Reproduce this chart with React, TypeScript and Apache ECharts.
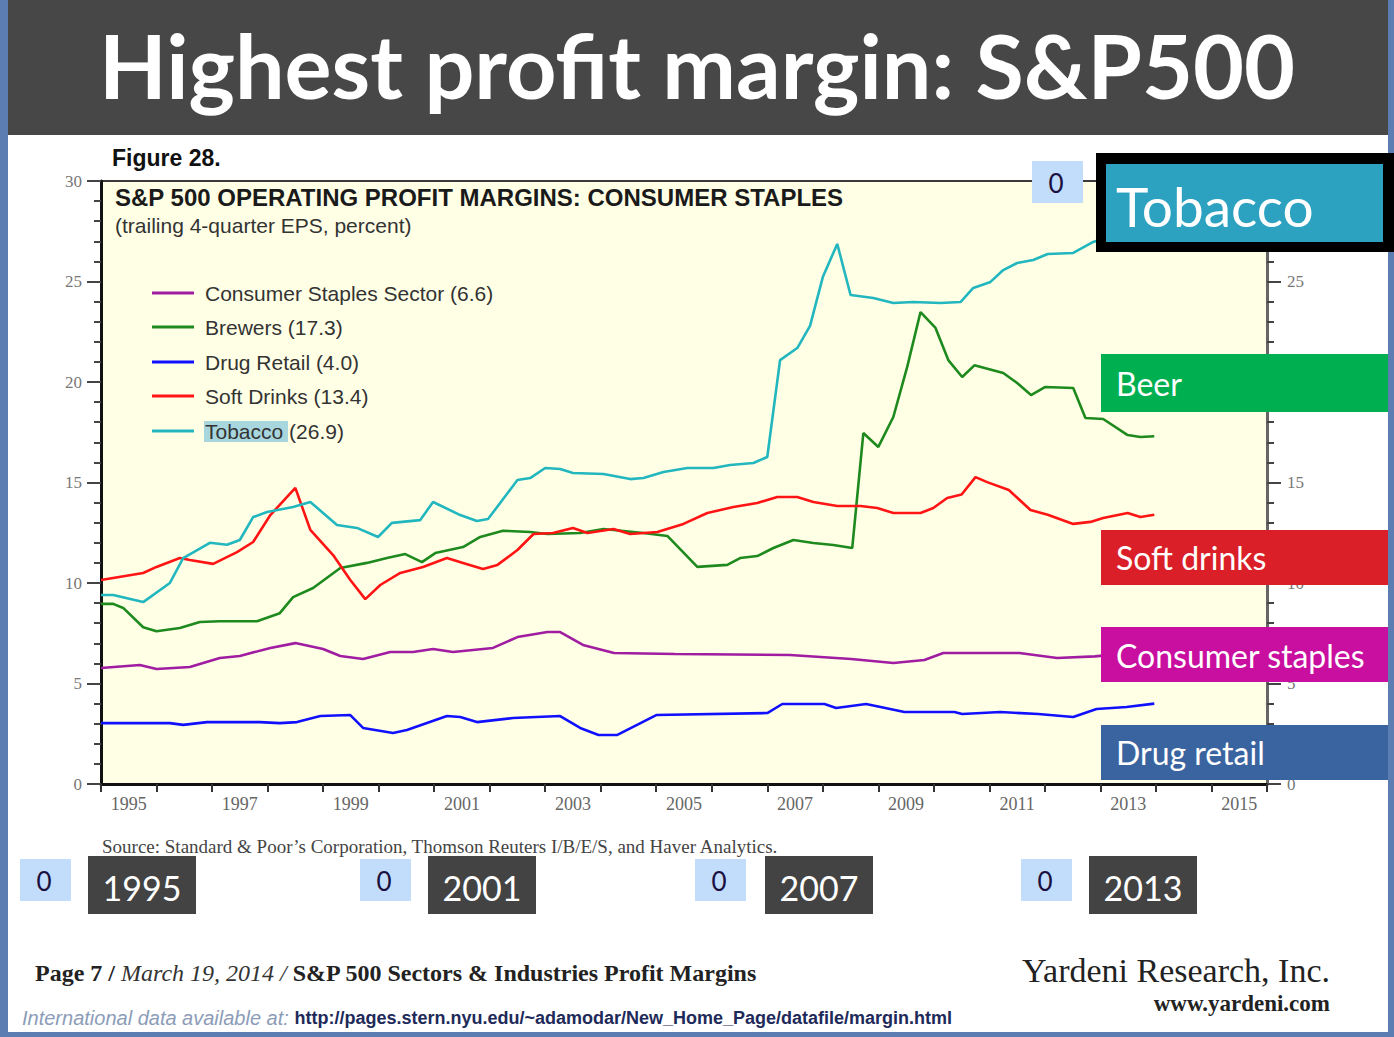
import React, { useEffect, useRef } from 'react';
import * as echarts from 'echarts';

// ---- data (year, percent) ----
const consumerStaples: [number, number][] = [
  [1995.0, 5.77], [1995.7, 5.92], [1996.0, 5.72], [1996.6, 5.82], [1997.14, 6.27], [1997.5, 6.37],
  [1998.05, 6.77], [1998.5, 7.01], [1999.0, 6.72], [1999.31, 6.37], [1999.72, 6.22], [2000.21, 6.57],
  [2000.62, 6.57], [2000.98, 6.72], [2001.34, 6.57], [2002.06, 6.77], [2002.5, 7.31], [2003.04, 7.56],
  [2003.27, 7.56], [2003.68, 6.92], [2004.24, 6.52], [2005.34, 6.47], [2007.41, 6.42], [2008.51, 6.22],
  [2009.27, 6.02], [2009.83, 6.17], [2010.17, 6.52], [2011.54, 6.52], [2012.22, 6.27], [2012.9, 6.35],
  [2013.5, 6.5], [2013.97, 6.6],
];

const brewers: [number, number][] = [
  [1995.0, 8.96], [1995.22, 8.96], [1995.4, 8.76], [1995.76, 7.8], [1996.0, 7.6], [1996.42, 7.76],
  [1996.78, 8.06], [1997.14, 8.1], [1997.81, 8.1], [1998.22, 8.5], [1998.46, 9.3], [1998.82, 9.75],
  [1999.31, 10.75], [1999.79, 11.0], [2000.15, 11.24], [2000.48, 11.44], [2000.78, 11.04], [2001.02, 11.49],
  [2001.52, 11.79], [2001.83, 12.29], [2002.24, 12.6], [2002.73, 12.54], [2003.04, 12.44], [2003.63, 12.49],
  [2004.05, 12.69], [2004.77, 12.49], [2005.2, 12.34], [2005.74, 10.8], [2006.28, 10.9], [2006.51, 11.24],
  [2006.82, 11.34], [2007.11, 11.74], [2007.47, 12.14], [2007.83, 11.99], [2008.19, 11.89], [2008.53, 11.74],
  [2008.73, 17.46], [2009.0, 16.77], [2009.27, 18.26], [2009.52, 20.75], [2009.76, 23.48], [2010.03, 22.69],
  [2010.26, 21.09], [2010.51, 20.25], [2010.73, 20.83], [2011.25, 20.45], [2011.5, 19.95], [2011.75, 19.35],
  [2012.0, 19.75], [2012.51, 19.7], [2012.73, 18.21], [2013.05, 18.16], [2013.49, 17.36], [2013.72, 17.26],
  [2013.97, 17.3],
];

const drugRetail: [number, number][] = [
  [1995.0, 3.03], [1996.24, 3.03], [1996.48, 2.94], [1996.91, 3.08], [1997.86, 3.08], [1998.22, 3.03],
  [1998.53, 3.08], [1998.95, 3.38], [1999.49, 3.43], [1999.72, 2.79], [2000.26, 2.54], [2000.51, 2.69],
  [2001.23, 3.38], [2001.47, 3.33], [2001.77, 3.08], [2002.42, 3.28], [2003.27, 3.38], [2003.63, 2.79],
  [2003.96, 2.44], [2004.3, 2.44], [2005.0, 3.43], [2007.0, 3.53], [2007.27, 3.98], [2008.03, 3.98],
  [2008.24, 3.78], [2008.78, 3.98], [2009.47, 3.58], [2010.37, 3.58], [2010.51, 3.48], [2011.2, 3.58],
  [2011.88, 3.48], [2012.51, 3.33], [2012.93, 3.73], [2013.47, 3.83], [2013.97, 4.0],
];

const softDrinks: [number, number][] = [
  [1995.0, 10.15], [1995.76, 10.5], [1996.0, 10.8], [1996.42, 11.24], [1996.6, 11.14], [1997.02, 10.95],
  [1997.45, 11.54], [1997.74, 12.04], [1998.05, 13.38], [1998.5, 14.73], [1998.77, 12.64], [1999.18, 11.39],
  [1999.49, 10.15], [1999.76, 9.2], [2000.03, 9.9], [2000.39, 10.5], [2000.8, 10.8], [2001.23, 11.24],
  [2001.52, 11.0], [2001.88, 10.7], [2002.14, 10.9], [2002.5, 11.64], [2002.79, 12.44], [2003.14, 12.49],
  [2003.5, 12.74], [2003.76, 12.49], [2004.23, 12.69], [2004.53, 12.44], [2005.02, 12.54], [2005.49, 12.94],
  [2005.92, 13.48], [2006.39, 13.78], [2006.82, 13.98], [2007.18, 14.28], [2007.54, 14.28], [2007.83, 14.03],
  [2008.26, 13.83], [2008.68, 13.83], [2008.98, 13.73], [2009.27, 13.48], [2009.76, 13.48], [2009.99, 13.73],
  [2010.24, 14.23], [2010.5, 14.4], [2010.75, 15.27], [2010.96, 15.02], [2011.35, 14.63], [2011.74, 13.63],
  [2012.05, 13.4], [2012.51, 12.94], [2012.82, 13.04], [2013.05, 13.23], [2013.49, 13.48], [2013.72, 13.28],
  [2013.97, 13.4],
];

const tobacco: [number, number][] = [
  [1995.0, 9.4], [1995.22, 9.4], [1995.76, 9.05], [1996.24, 10.0], [1996.48, 11.24], [1996.96, 12.0],
  [1997.27, 11.9], [1997.5, 12.14], [1997.74, 13.28], [1997.99, 13.53], [1998.46, 13.78], [1998.77, 14.03],
  [1999.25, 12.89], [1999.61, 12.74], [1999.99, 12.29], [2000.24, 12.99], [2000.75, 13.13], [2000.98, 14.03],
  [2001.47, 13.38], [2001.77, 13.08], [2001.97, 13.18], [2002.5, 15.12], [2002.73, 15.22], [2003.0, 15.72],
  [2003.27, 15.67], [2003.5, 15.47], [2004.05, 15.42], [2004.53, 15.17], [2004.77, 15.22], [2005.13, 15.52],
  [2005.56, 15.72], [2006.03, 15.72], [2006.33, 15.87], [2006.75, 15.97], [2007.0, 16.27], [2007.23, 21.09],
  [2007.54, 21.69], [2007.77, 22.79], [2008.0, 25.22], [2008.26, 26.87], [2008.5, 24.33], [2008.91, 24.18],
  [2009.27, 23.93], [2009.63, 23.98], [2010.12, 23.93], [2010.48, 23.98], [2010.71, 24.68], [2011.02, 24.98],
  [2011.25, 25.57], [2011.5, 25.92], [2011.79, 26.07], [2012.05, 26.37], [2012.51, 26.42], [2012.87, 26.97],
  [2013.25, 27.3], [2013.6, 27.1], [2013.97, 26.9],
];

const legendNames = [
  'Consumer Staples Sector (6.6)',
  'Brewers (17.3)',
  'Drug Retail (4.0)',
  'Soft Drinks (13.4)',
  'Tobacco (26.9)',
];
const seriesColors = ['#A01CA0', '#1E8A1E', '#1010FF', '#FF1414', '#22B6BE'];
const seriesData = [consumerStaples, brewers, drugRetail, softDrinks, tobacco];

const yearBoxLabels = ['1995', '2001', '2007', '2013'];
const sideLabels = ['Tobacco', 'Beer', 'Soft drinks', 'Consumer staples', 'Drug retail'];

const SANS = 'Lato, "Open Sans", sans-serif';
const ARIAL = '"Liberation Sans", Arial, sans-serif';
const SERIF = '"Liberation Serif", "Times New Roman", serif';

function buildOption() {
  const Z = 100;
  const els: any[] = [];
  const rect = (x: number, y: number, w: number, h: number, fill: string, z = Z) =>
    els.push({ type: 'rect', z, shape: { x, y, width: w, height: h }, style: { fill } });
  const text = (x: number, y: number, t: string, font: string, fill: string, align = 'left', z = Z + 1) =>
    els.push({
      type: 'text', z, x, y,
      style: { text: t, font, fill, textAlign: align, textVerticalAlign: 'middle' },
    });

  // page frame
  rect(0, 0, 8, 1037, '#5B7DB1');
  rect(1388, 0, 6, 1037, '#5B7DB1');
  rect(0, 1032, 1394, 5, '#5B7DB1');
  // title bar
  rect(8, 0, 1380, 135, '#474747');
  text(697, 65, 'Highest profit margin: S&P500', `bold 88px ${SANS}`, '#FFFFFF', 'center');

  // figure header
  text(112, 158, 'Figure 28.', `bold 23px ${ARIAL}`, '#111111');
  text(115, 197, 'S&P 500 OPERATING PROFIT MARGINS: CONSUMER STAPLES', `bold 24px ${ARIAL}`, '#1a1a1a');
  text(115, 225, '(trailing 4-quarter EPS, percent)', `21px ${ARIAL}`, '#333333');

  // legend
  const legendY = [293, 327, 362, 396, 431];
  rect(204, 421, 84, 21, '#A8D6DE');
  legendNames.forEach((n, i) => {
    els.push({
      type: 'line', z: Z,
      shape: { x1: 152, y1: legendY[i], x2: 194, y2: legendY[i] },
      style: { stroke: seriesColors[i], lineWidth: 3 },
    });
    text(205, legendY[i], n, `21px ${ARIAL}`, '#333333');
  });

  // zero boxes
  const zeroBoxes = [[1032, 161], [20, 859], [360, 859], [695, 859], [1021, 859]];
  zeroBoxes.forEach(([x, y]) => {
    rect(x, y, 51, 42, '#C2DCFC');
    text(x + 24, y + 22, '0', `26px ${SANS}`, '#1a1040', 'center');
  });

  // year boxes
  const yearBoxX = [88, 428, 765, 1089];
  yearBoxLabels.forEach((t, i) => {
    rect(yearBoxX[i], 856, 108, 58, '#434343');
    text(yearBoxX[i] + 54, 887, t, `34px ${SANS}`, '#FFFFFF', 'center');
  });

  // side labels
  rect(1096, 153, 298, 99, '#000000');
  rect(1106, 164, 277, 78, '#2CA1C0', Z + 1);
  text(1116, 206, sideLabels[0], `55px ${SANS}`, '#FFFFFF', 'left', Z + 2);
  const sideBoxes = [
    [354, 58, '#00B050', 383],
    [530, 55, '#DA1F28', 557],
    [627, 55, '#C90FA0', 655],
    [725, 55, '#3A64A0', 752],
  ];
  sideBoxes.forEach(([y, h, c, ty], i) => {
    rect(1101, y as number, 287, h as number, c as string);
    text(1116, ty as number, sideLabels[i + 1], `32px ${SANS}`, '#FFFFFF');
  });

  // source & footer
  text(102, 846, "Source: Standard & Poor’s Corporation, Thomson Reuters I/B/E/S, and Haver Analytics.", `19px ${SERIF}`, '#444444');
  els.push({
    type: 'text', z: Z + 1, x: 35, y: 973,
    style: {
      text: '{b|Page 7 / }{i|March 19, 2014 / }{b|S&P 500 Sectors & Industries Profit Margins}',
      textVerticalAlign: 'middle',
      rich: {
        b: { font: `bold 24px ${SERIF}`, fill: '#222222' },
        i: { font: `italic 24px ${SERIF}`, fill: '#333333' },
      },
    },
  });
  text(1330, 970, 'Yardeni Research, Inc.', `34px ${SERIF}`, '#222222', 'right');
  text(1330, 1003, 'www.yardeni.com', `bold 23px ${SERIF}`, '#222222', 'right');
  els.push({
    type: 'text', z: Z + 1, x: 22, y: 1018,
    style: {
      text: '{a|International data available at: }{u|http://pages.stern.nyu.edu/~adamodar/New_Home_Page/datafile/margin.html}',
      textVerticalAlign: 'middle',
      rich: {
        a: { font: `italic 20px ${ARIAL}`, fill: '#8C9CB8' },
        u: { font: `bold 18px ${ARIAL}`, fill: '#1E2A5A' },
      },
    },
  });

  const yAxisCommon = {
    type: 'value', min: 0, max: 30, interval: 5, splitNumber: 6,
    splitLine: { show: false },
    axisTick: { show: true, length: 14, lineStyle: { color: '#444', width: 2 } },
    minorTick: { show: true, splitNumber: 5, length: 7, lineStyle: { color: '#444', width: 2 } },
  };

  return {
    animation: false,
    backgroundColor: '#FFFFFF',
    grid: {
      left: 101, top: 181, width: 1166, height: 603,
      show: true, backgroundColor: '#FFFFE6', borderColor: '#3a3a3a', borderWidth: 2,
    },
    xAxis: [
      {
        type: 'value', min: 1995, max: 2016, interval: 1,
        axisLine: { show: true, onZero: false, lineStyle: { color: '#111', width: 3 } },
        axisTick: { show: true, length: 8, lineStyle: { color: '#333', width: 2 } },
        axisLabel: { show: false },
        splitLine: { show: false },
      },
      {
        type: 'value', min: 3990, max: 4032, interval: 1, position: 'bottom',
        axisLine: { show: false }, axisTick: { show: false }, splitLine: { show: false },
        axisLabel: {
          interval: 0, fontFamily: SERIF, fontSize: 18, color: '#666', margin: 11,
          formatter: (v: number) => {
            if (v % 2 !== 1) return '';
            const yr = (v - 1) / 2;
            return yr % 2 === 1 ? String(yr) : '';
          },
        },
      },
    ],
    yAxis: [
      {
        ...yAxisCommon, position: 'left',
        axisLine: { show: true, onZero: false, lineStyle: { color: '#111', width: 3 } },
        axisLabel: { fontFamily: SERIF, fontSize: 17, color: '#777', margin: 19 },
      },
      {
        ...yAxisCommon, position: 'right',
        axisLine: { show: true, onZero: false, lineStyle: { color: '#666', width: 3 } },
        axisLabel: { fontFamily: SERIF, fontSize: 17, color: '#777', margin: 20, showMaxLabel: false },
      },
    ],
    series: seriesData.map((d, i) => ({
      name: legendNames[i],
      type: 'line',
      xAxisIndex: 0,
      yAxisIndex: 0,
      data: d,
      showSymbol: false,
      symbol: 'none',
      lineStyle: { color: seriesColors[i], width: 2.6 },
      itemStyle: { color: seriesColors[i] },
      z: 3,
    })),
    graphic: { elements: els },
  };
}

export default function App() {
  const ref = useRef<HTMLDivElement>(null);
  useEffect(() => {
    if (!ref.current) return;
    const chart = echarts.init(ref.current, undefined, { renderer: 'svg' });
    chart.setOption(buildOption() as any);
    return () => chart.dispose();
  }, []);
  return (
    <div
      ref={ref}
      style={{ position: 'absolute', left: 0, top: 0, width: 1394, height: 1037, background: '#fff' }}
    />
  );
}
